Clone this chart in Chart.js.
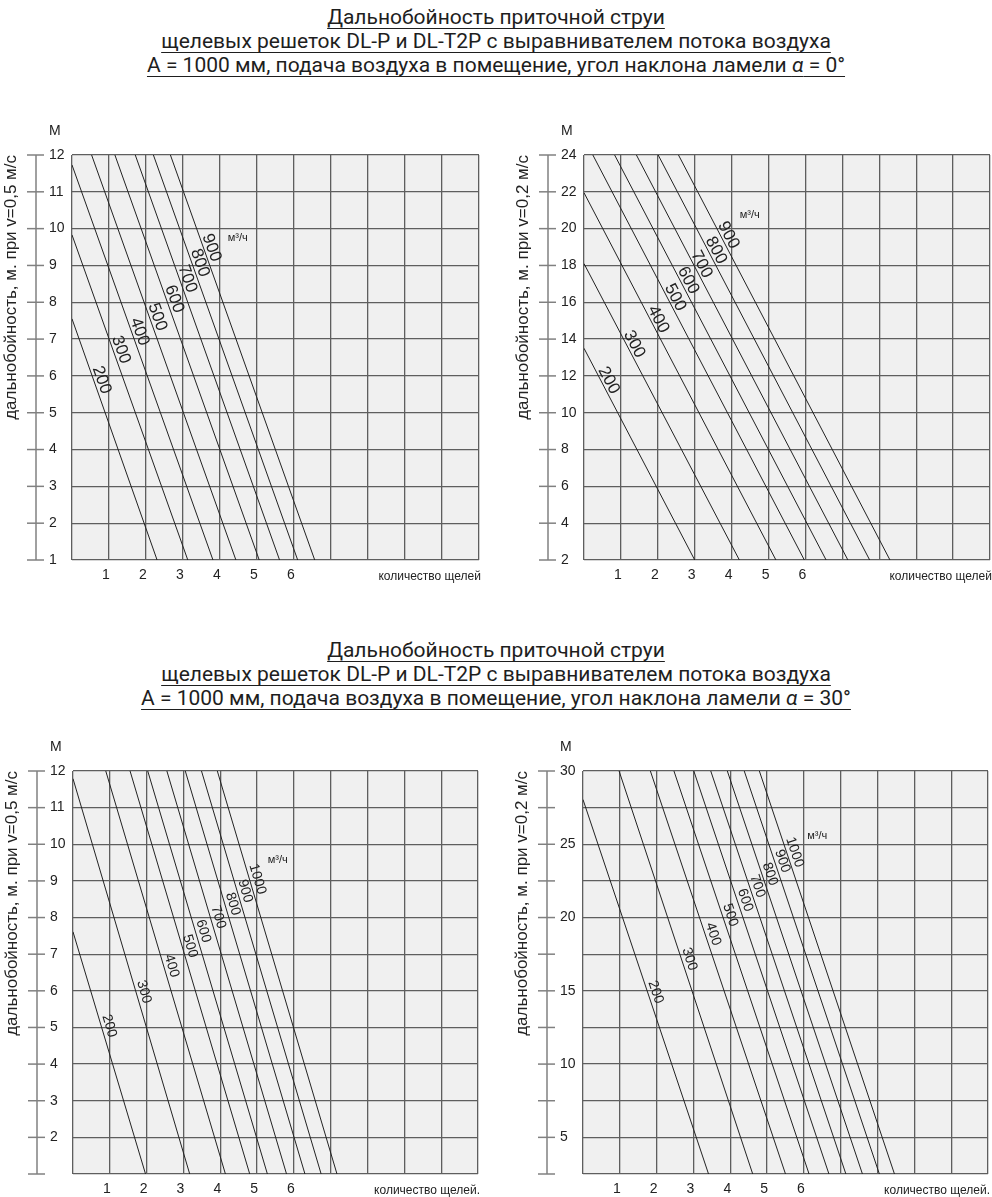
<!DOCTYPE html>
<html lang="ru">
<head>
<meta charset="utf-8">
<title>Дальнобойность приточной струи</title>
<script src="https://cdn.jsdelivr.net/npm/chart.js@4.4.0/dist/chart.umd.min.js"></script>
<style>
  body {
    margin: 0;
    width: 992px;
    height: 1197px;
    position: relative;
    background: #fff;
    overflow: hidden;
  }
  .title {
    position: absolute;
    left: 0;
    width: 992px;
    text-align: center;
    font-family: Roboto, "Liberation Sans", Arial, sans-serif;
    font-size: 21px;
    line-height: 24px;
    color: #1e1e1e;
  }
  .title span {
    text-decoration: underline;
    text-decoration-thickness: 1px;
    text-underline-offset: 4px;
  }
  canvas { position: absolute; }
</style>
</head>
<body>

<div class="title" style="top:5px">
  <div><span>Дальнобойность приточной струи</span></div>
  <div><span>щелевых решеток DL-P и DL-T2P с выравнивателем потока воздуха</span></div>
  <div><span>A = 1000 мм, подача воздуха в помещение, угол наклона ламели <i>α</i> = 0°</span></div>
</div>

<div class="title" style="top:638px">
  <div><span>Дальнобойность приточной струи</span></div>
  <div><span>щелевых решеток DL-P и DL-T2P с выравнивателем потока воздуха</span></div>
  <div><span>A = 1000 мм, подача воздуха в помещение, угол наклона ламели <i>α</i> = 30°</span></div>
</div>

<canvas id="c1" width="496" height="500" style="left:0;top:100px"></canvas>
<canvas id="c2" width="496" height="500" style="left:496px;top:100px"></canvas>
<canvas id="c3" width="496" height="482" style="left:0;top:715px"></canvas>
<canvas id="c4" width="496" height="482" style="left:496px;top:715px"></canvas>

<script>
// x axis: number of slots, ticks 0..11, only 1..6 are labelled
const xTickLabels = ["", "1", "2", "3", "4", "5", "6", "", "", "", "", ""];

// --- α = 0°, v = 0,5 м/с ---
const flows1 = ["200", "300", "400", "500", "600", "700", "800", "900"];
const lineStart1 = [[0, 7.55], [0, 9.83], [0, 11.73], [0.53, 12], [1.16, 12], [1.71, 12], [2.2, 12], [2.66, 12]];
const lineEnd1 = [[2.3, 1], [3.13, 1], [3.81, 1], [4.43, 1], [5.06, 1], [5.61, 1], [6.1, 1], [6.56, 1]];
const labelAt1 = [5.89, 6.71, 7.2, 7.6, 8.09, 8.64, 9.07, 9.48];
const yTickLabels1 = ["1", "2", "3", "4", "5", "6", "7", "8", "9", "10", "11", "12"];

// --- α = 0°, v = 0,2 м/с ---
const flows2 = ["200", "300", "400", "500", "600", "700", "800", "900"];
const lineStart2 = [[0, 13.5], [0, 18.1], [0, 21.95], [0.24, 24], [0.83, 24], [1.42, 24], [2.01, 24], [2.56, 24]];
const lineEnd2 = [[3.0, 2], [4.21, 2], [5.2, 2], [5.97, 2], [6.56, 2], [7.15, 2], [7.74, 2], [8.29, 2]];
const labelAt2 = [11.76, 13.72, 15.07, 16.27, 17.19, 18.06, 18.82, 19.64];
const yTickLabels2 = ["2", "4", "6", "8", "10", "12", "14", "16", "18", "20", "22", "24"];

// --- α = 30°, v = 0,5 м/с ---
const flows3 = ["200", "300", "400", "500", "600", "700", "800", "900", "1000"];
const lineStart3 = [[0, 7.61], [0, 11.79], [0.89, 12], [1.55, 12], [2.03, 12], [2.55, 12], [3.05, 12], [3.49, 12], [3.92, 12]];
const lineEnd3 = [[1.97, 1], [3.17, 1], [4.14, 1], [4.8, 1], [5.28, 1], [5.8, 1], [6.3, 1], [6.74, 1], [7.17, 1]];
const labelAt3 = [5.04, 5.97, 6.68, 7.22, 7.63, 8.01, 8.37, 8.72, 9.05];
const yTickLabels3 = ["", "2", "3", "4", "5", "6", "7", "8", "9", "10", "11", "12"];

// --- α = 30°, v = 0,2 м/с ---
const flows4 = ["200", "300", "400", "500", "600", "700", "800", "900", "1000"];
const lineStart4 = [[0, 28.05], [0.98, 30], [1.83, 30], [2.47, 30], [3.01, 30], [3.47, 30], [3.92, 30], [4.38, 30], [4.79, 30]];
const lineEnd4 = [[3.41, 2.5], [4.61, 2.5], [5.5, 2.5], [6.14, 2.5], [6.68, 2.5], [7.14, 2.5], [7.59, 2.5], [8.05, 2.5], [8.46, 2.5]];
const labelAt4 = [14.91, 17.16, 18.87, 20.16, 21.19, 22.15, 22.97, 23.85, 24.46];
const yTickLabels4 = ["", "5", "", "10", "", "15", "", "20", "", "25", "", "30"];

const FONT = '"Liberation Sans", Arial, sans-serif';
const GRID = "#5e5e5e";

// draws the detached y axis, tick labels, titles and flow labels
const decorPlugin = (cfg) => ({
  id: "decor",
  beforeDraw(chart) {
    const { ctx, chartArea: a } = chart;
    ctx.save();
    ctx.fillStyle = "#f0f0f0";
    ctx.fillRect(a.left, a.top, a.right - a.left, a.bottom - a.top);
    ctx.restore();
  },
  afterDraw(chart) {
    const { ctx, chartArea: a } = chart;
    const xs = chart.scales.x;
    const ys = chart.scales.y;
    ctx.save();

    // y axis away from the plot
    const ax = a.left - 36;
    ctx.strokeStyle = "#808080";
    ctx.lineWidth = 1.5;
    ctx.beginPath();
    ctx.moveTo(ax, a.top);
    ctx.lineTo(ax, a.bottom);
    ctx.stroke();
    ctx.font = "14px " + FONT;
    ctx.fillStyle = "#222";
    ctx.textBaseline = "middle";
    ctx.textAlign = "left";
    ys.ticks.forEach((t, i) => {
      const py = ys.getPixelForValue(t.value);
      ctx.beginPath();
      ctx.moveTo(ax - 9, py);
      ctx.lineTo(ax + 8, py);
      ctx.stroke();
      if (cfg.yLabels[i]) ctx.fillText(cfg.yLabels[i], ax + 13, py);
    });
    ctx.fillText("М", ax + 13, a.top - 24);

    // x tick labels
    ctx.textAlign = "center";
    xs.ticks.forEach((t, i) => {
      if (xTickLabels[i]) ctx.fillText(xTickLabels[i], xs.getPixelForValue(t.value) - 3, a.bottom + 15);
    });
    ctx.font = "12px " + FONT;
    ctx.textAlign = "right";
    ctx.fillText(cfg.xTitle, a.right + 2, a.bottom + 17);

    // y title
    ctx.save();
    ctx.translate(a.left - 61, a.top);
    ctx.rotate(-Math.PI / 2);
    ctx.font = "17px " + FONT;
    ctx.textAlign = "right";
    ctx.fillText(cfg.yTitle, 0, 0);
    ctx.restore();

    // unit
    ctx.font = "11px " + FONT;
    ctx.textAlign = "left";
    ctx.fillText("м³/ч", xs.getPixelForValue(cfg.unitAt[0]), ys.getPixelForValue(cfg.unitAt[1]));

    // flow labels along their lines
    ctx.font = cfg.labelFont + "px " + FONT;
    ctx.textAlign = "center";
    cfg.flows.forEach((f, i) => {
      const s = cfg.start[i];
      const e = cfg.end[i];
      const v = cfg.labelAt[i];
      const xv = s[0] + ((s[1] - v) * (e[0] - s[0])) / (s[1] - e[1]);
      const ang = Math.atan2(
        ys.getPixelForValue(e[1]) - ys.getPixelForValue(s[1]),
        xs.getPixelForValue(e[0]) - xs.getPixelForValue(s[0])
      );
      ctx.save();
      ctx.translate(xs.getPixelForValue(xv) + 8, ys.getPixelForValue(v));
      ctx.rotate(ang);
      ctx.fillText(f, 0, 0);
      ctx.restore();
    });
    ctx.restore();
  },
});

const makeChart = (id, cfg) => {
  const datasets = cfg.flows.map((f, i) => ({
    label: f,
    data: [
      { x: cfg.start[i][0], y: cfg.start[i][1] },
      { x: cfg.end[i][0], y: cfg.end[i][1] },
    ],
    borderColor: "#222",
    borderWidth: 1,
    pointRadius: 0,
    fill: false,
  }));

  return new Chart(document.getElementById(id), {
    type: "line",
    data: { datasets },
    options: {
      responsive: false,
      animation: false,
      layout: { padding: cfg.pad },
      plugins: { legend: { display: false }, tooltip: { enabled: false } },
      scales: {
        x: {
          type: "linear",
          min: 0,
          max: 11,
          ticks: { stepSize: 1, display: false },
          grid: { color: GRID, lineWidth: 1.3, drawTicks: false },
          border: { display: false },
        },
        y: {
          type: "linear",
          min: cfg.yMin,
          max: cfg.yMax,
          ticks: { stepSize: cfg.yStep, display: false },
          grid: { color: GRID, lineWidth: 1.3, drawTicks: false },
          border: { display: false },
        },
      },
    },
    plugins: [decorPlugin(cfg)],
  });
};

makeChart("c1", {
  flows: flows1, start: lineStart1, end: lineEnd1, labelAt: labelAt1,
  yMin: 1, yMax: 12, yStep: 1, yLabels: yTickLabels1,
  yTitle: "дальнобойность, м. при v=0,5 м/с", xTitle: "количество щелей",
  unitAt: [4.21, 9.75], labelFont: 17,
  pad: { left: 72, top: 55, right: 17, bottom: 40 },
});

makeChart("c2", {
  flows: flows2, start: lineStart2, end: lineEnd2, labelAt: labelAt2,
  yMin: 2, yMax: 24, yStep: 2, yLabels: yTickLabels2,
  yTitle: "дальнобойность, м. при v=0,2 м/с", xTitle: "количество щелей",
  unitAt: [4.22, 20.72], labelFont: 17,
  pad: { left: 88, top: 55, right: 2, bottom: 40 },
});

makeChart("c3", {
  flows: flows3, start: lineStart3, end: lineEnd3, labelAt: labelAt3,
  yMin: 1, yMax: 12, yStep: 1, yLabels: yTickLabels3,
  yTitle: "дальнобойность, м. при v=0,5 м/с", xTitle: "количество щелей.",
  unitAt: [5.29, 9.57], labelFont: 14,
  pad: { left: 73, top: 56, right: 18, bottom: 23 },
});

makeChart("c4", {
  flows: flows4, start: lineStart4, end: lineEnd4, labelAt: labelAt4,
  yMin: 2.5, yMax: 30, yStep: 2.5, yLabels: yTickLabels4,
  yTitle: "дальнобойность, м. при v=0,2 м/с", xTitle: "количество щелей.",
  unitAt: [6.09, 25.55], labelFont: 14,
  pad: { left: 87, top: 56, right: 4, bottom: 23 },
});
</script>
</body>
</html>
